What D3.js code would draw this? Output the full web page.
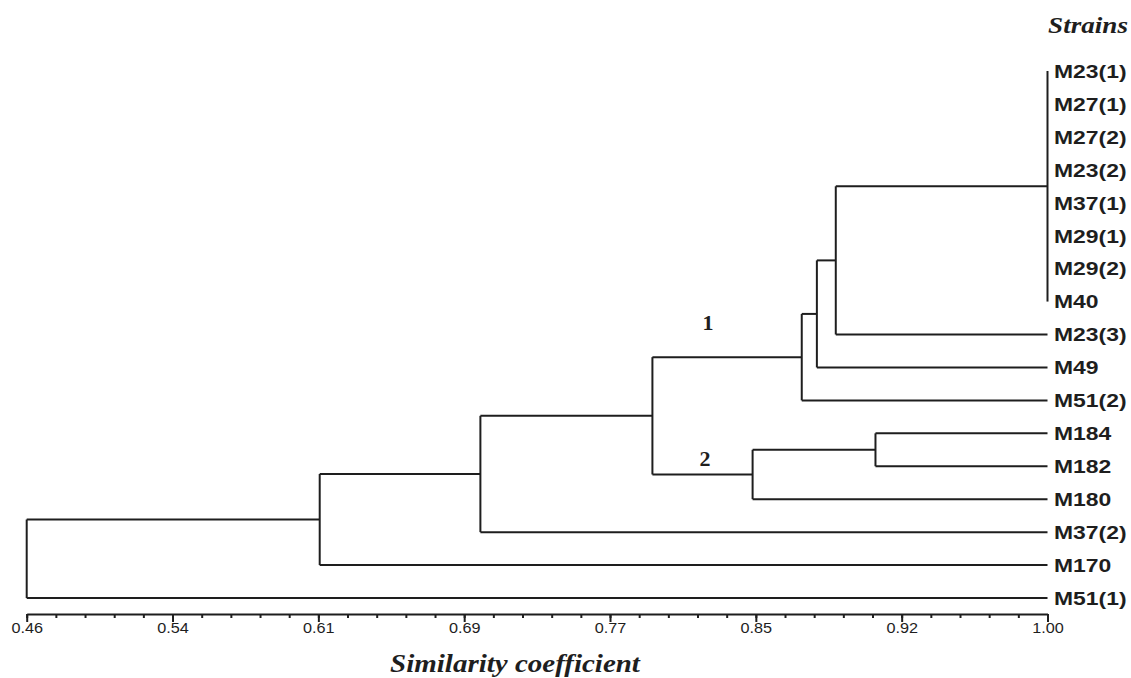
<html>
<head>
<title>Strains dendrogram</title>
<script src="https://d3js.org/d3.v7.min.js"></script>
<style>
body { margin:0; background:#fff; }
</style>
</head>
<body>
<div id="canvas"></div>
<script>

// leaf order, top to bottom
var strains = ["M23(1)", "M27(1)", "M27(2)", "M23(2)", "M37(1)", "M29(1)", "M29(2)", "M40",
               "M23(3)", "M49", "M51(2)", "M184", "M182", "M180", "M37(2)", "M170", "M51(1)"];

// internal nodes: name, children (leaf or node names), similarity where they join
var nodeNames = ["g8", "A", "B", "C", "F", "E", "D", "G", "H", "root"];
var nodeChildren = [
   ["M23(1)", "M27(1)", "M27(2)", "M23(2)", "M37(1)", "M29(1)", "M29(2)", "M40"],
   ["g8", "M23(3)"],
   ["A", "M49"],
   ["B", "M51(2)"],
   ["M184", "M182"],
   ["F", "M180"],
   ["C", "E"],
   ["D", "M37(2)"],
   ["G", "M170"],
   ["H", "M51(1)"]
];
var nodeSim = [1.00, 0.888, 0.878, 0.870, 0.909, 0.844, 0.791, 0.700, 0.615, 0.46];

var tickLabels = ["0.46", "0.54", "0.61", "0.69", "0.77", "0.85", "0.92", "1.00"];
var clusterLabels = ["1", "2"];
var clusterNodes = ["C", "E"];

var W = 1131, H = 678;
var svg = d3.select("#canvas").append("svg")
            .attr("width", W).attr("height", H);

var x = d3.scaleLinear().domain([0.46, 1.00]).range([26.7, 1047.5]);
var y = d3.scalePoint().domain(strains).range([71, 598]);

// build tree
var lookup = {};
nodeNames.forEach(function(n, i) { lookup[n] = i; });
function build(name) {
   if (lookup[name] === undefined) return { name: name, sim: 1.00 };
   var i = lookup[name];
   return { name: name, sim: nodeSim[i], children: nodeChildren[i].map(build) };
}
var root = d3.hierarchy(build("root"));

// y positions: leaves from scale, internal nodes midway between first and last child
root.eachAfter(function(d) {
   if (!d.children) d.py = y(d.data.name);
   else d.py = (d.children[0].py + d.children[d.children.length-1].py) / 2;
   d.px = x(d.data.sim);
});

var ink = "#1e1e1e";
var g = svg.append("g").attr("fill", "none").attr("stroke", ink).attr("stroke-width", 2);

root.descendants().filter(function(d) { return d.children; }).forEach(function(d) {
   var ys = d.children.map(function(c) { return c.py; });
   g.append("line")
    .attr("x1", d.px).attr("x2", d.px)
    .attr("y1", d3.min(ys)).attr("y2", d3.max(ys));
   d.children.forEach(function(c) {
      if (c.px === d.px) return;
      g.append("line")
       .attr("x1", d.px).attr("x2", c.px)
       .attr("y1", c.py).attr("y2", c.py);
   });
});

// leaf labels
svg.append("g").selectAll("text")
   .data(root.leaves())
   .enter().append("text")
   .attr("transform", function(d) { return "translate(1054," + d.py + ") scale(1.24,1)"; })
   .attr("dy", "0.37em")
   .style("font-family", "Liberation Sans, Arial")
   .style("font-weight", "bold")
   .style("font-size", "18.5px")
   .attr("fill", ink)
   .text(function(d) { return d.data.name; });

// cluster numbers
var byName = {};
root.descendants().forEach(function(d) { byName[d.data.name] = d; });
svg.append("g").selectAll("text")
   .data(clusterLabels)
   .enter().append("text")
   .attr("x", function(d, i) { return [708, 705][i]; })
   .attr("y", function(d, i) { return byName[clusterNodes[i]].py - [27, 8][i]; })
   .attr("text-anchor", "middle")
   .style("font-family", "Liberation Serif, Times New Roman")
   .style("font-weight", "bold")
   .style("font-size", "22px")
   .attr("fill", ink)
   .text(function(d) { return d; });

// axis
var n = tickLabels.length;
var majors = d3.range(n).map(function(i) { return 0.46 + i * (1.00 - 0.46) / (n - 1); });
var minors = d3.range((n - 1) * 5 + 1).map(function(i) { return 0.46 + i * (1.00 - 0.46) / ((n - 1) * 5); });

var axisY = 614;
var minorAxis = svg.append("g")
   .attr("transform", "translate(0," + axisY + ")")
   .call(d3.axisBottom(x).tickValues(minors).tickSize(4).tickSizeOuter(0).tickFormat(""));
minorAxis.select(".domain").attr("stroke", ink).attr("stroke-width", 2);
minorAxis.selectAll(".tick line").attr("stroke", ink).attr("stroke-width", 2);

var majorAxis = svg.append("g")
   .attr("transform", "translate(0," + axisY + ")")
   .call(d3.axisBottom(x).tickValues(majors).tickSize(8).tickSizeOuter(0)
         .tickFormat(function(d, i) { return tickLabels[i]; }));
majorAxis.select(".domain").remove();
majorAxis.selectAll(".tick line").attr("stroke", ink).attr("stroke-width", 2);
majorAxis.selectAll(".tick text")
   .attr("y", 9)
   .attr("dy", "0.71em")
   .attr("transform", "scale(1.12,1)")
   .style("font-family", "Liberation Sans, Arial")
   .style("font-size", "14.5px")
   .attr("fill", "#1e1e1e");

// titles
svg.append("text")
   .attr("transform", "translate(1128,33) scale(1.13,1)")
   .attr("text-anchor", "end")
   .style("font-family", "Liberation Serif, Times New Roman")
   .style("font-style", "italic").style("font-weight", "bold")
   .style("font-size", "24px")
   .attr("fill", ink)
   .text("Strains");

svg.append("text")
   .attr("transform", "translate(515,672) scale(1.16,1)")
   .attr("text-anchor", "middle")
   .style("font-family", "Liberation Serif, Times New Roman")
   .style("font-style", "italic").style("font-weight", "bold")
   .style("font-size", "25px")
   .attr("fill", ink)
   .text("Similarity coefficient");

</script>
</body>
</html>
